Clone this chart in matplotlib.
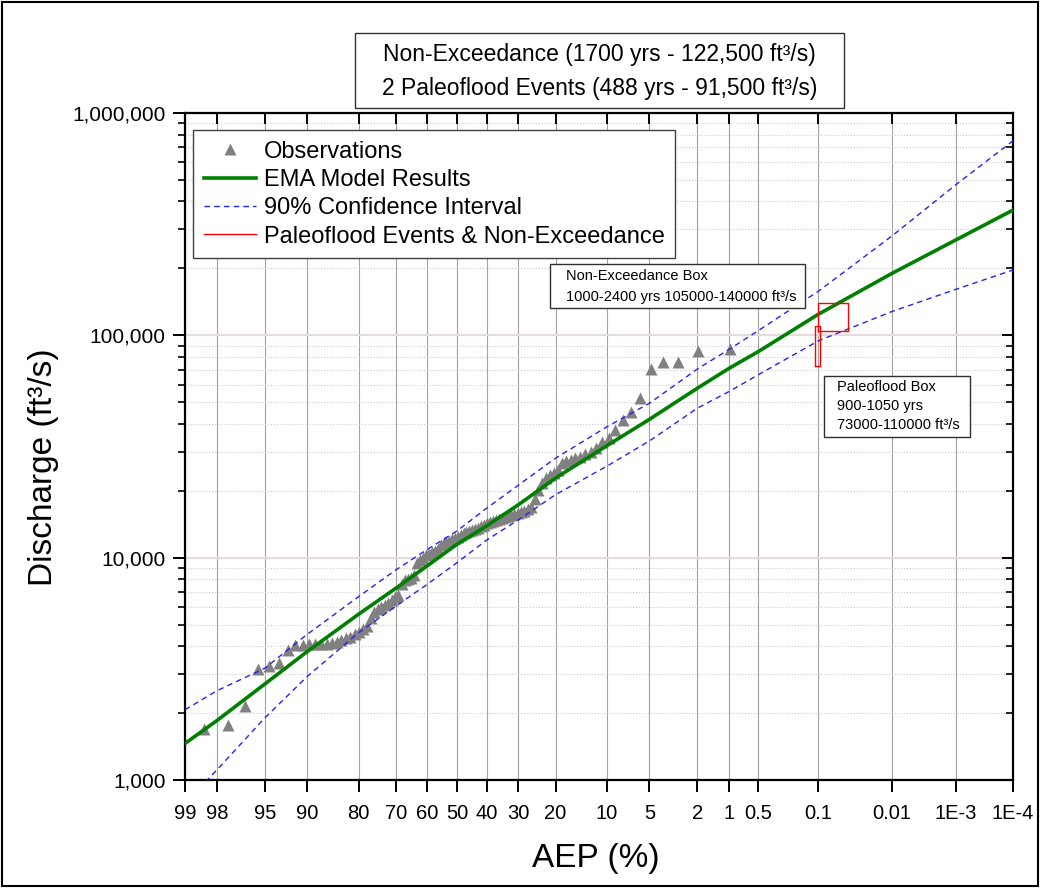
import numpy as np
import matplotlib
matplotlib.use("Agg")
import matplotlib.pyplot as plt
from matplotlib.patches import Rectangle
from matplotlib.ticker import NullLocator, NullFormatter, LogLocator
from statistics import NormalDist

plt.rcParams['font.family'] = ['Liberation Sans', 'DejaVu Sans']

# ------------------------------------------
# Data
# ------------------------------------------
aep_ticks = [99, 98, 95, 90, 80, 70, 60, 50, 40, 30, 20, 10, 5, 2, 1, 0.5,
             0.1, 0.01, 0.001, 0.0001]
aep_tick_labels = ["99", "98", "95", "90", "80", "70", "60", "50", "40", "30",
                   "20", "10", "5", "2", "1", "0.5", "0.1", "0.01", "1E-3", "1E-4"]
q_ticks = [1000, 10000, 100000, 1000000]

# EMA curve and 90% confidence limits, AEP in percent
curve_aep = [99, 98, 95, 90, 80, 70, 60, 50, 40, 30, 20, 10, 5, 2, 1, 0.5,
             0.1, 0.01, 0.001, 0.0001]
ema_q = [1460, 1850, 2700, 3780, 5570, 7280, 9200, 11500, 13900, 17300,
         22800, 31900, 41900, 57800, 71100, 84500, 124500, 190000, 268600, 366000]
upper_q = [2070, 2520, 3180, 4520, 6680, 8800, 10900, 13200, 16700, 21200,
           28000, 38800, 49500, 70500, 86500, 105000, 158000, 280000, 476000, 750000]
lower_q = [790, 1110, 1900, 2920, 4600, 6050, 7600, 9500, 12000, 14800,
           19200, 25800, 33500, 47000, 55900, 66500, 94500, 128000, 161000, 196700]

# observed peaks (plotting position AEP %, discharge)
obs_aep = [98.48, 97.51, 96.53, 95.56, 94.58, 93.61, 92.63, 91.66, 90.68, 89.71,
           88.73, 87.76, 86.78, 85.81, 84.83, 83.86, 82.88, 81.91, 80.93, 79.96,
           78.98, 78.01, 77.03, 76.06, 75.08, 74.11, 73.13, 72.16, 71.18, 70.21,
           69.23, 68.26, 67.28, 66.31, 65.33, 64.36, 63.38, 62.41, 61.43, 60.46,
           59.48, 58.51, 57.53, 56.56, 55.58, 54.61, 53.63, 52.66, 51.68, 50.71,
           49.73, 48.76, 47.78, 46.81, 45.83, 44.86, 43.88, 42.91, 41.93, 40.96,
           39.98, 39.01, 38.03, 37.06, 36.08, 35.11, 34.13, 33.16, 32.18, 31.21,
           30.23, 29.26, 28.28, 27.31, 26.33, 25.36, 24.38, 23.41, 22.43, 21.46,
           20.48, 19.51, 18.53, 17.56, 16.58, 15.61, 14.63, 13.66, 12.68, 11.71,
           10.73, 9.76, 8.78, 7.81, 6.83, 5.86, 4.88, 3.91, 2.93, 1.96,
           0.98]
obs_q = [1690, 1770, 2150, 3170, 3270, 3350, 3850, 4050, 4050, 4070,
         4070, 4090, 4090, 4130, 4180, 4260, 4350, 4420, 4540, 4630,
         4780, 4930, 5360, 5700, 5880, 6000, 6130, 6260, 6450, 6660,
         6800, 7620, 7940, 8020, 8110, 8360, 9470, 9770, 9970, 10280,
         10390, 10610, 10720, 10940, 11410, 11650, 11800, 11890, 12080, 12260,
         12390, 12650, 12910, 13090, 13190, 13320, 13460, 13600, 13810, 14030,
         14250, 14470, 14620, 14770, 14930, 15080, 15240, 15400, 15560, 15640,
         15810, 15970, 16220, 16560, 16910, 18370, 20160, 21680, 22830, 23550,
         24040, 24800, 26670, 27080, 27510, 27940, 28470, 29280, 29980, 31150,
         33250, 34550, 37540, 41630, 45390, 52120, 70620, 75920, 75920, 85340,
         86850]

# paleoflood / non-exceedance boxes (years, discharge)
nonexc_years = [1000, 2400]
nonexc_q = [105000, 140000]
paleo_years = [900, 1050]
paleo_q = [73000, 110000]

# ------------------------------------------
# Normal probability scale for AEP (%)
# ------------------------------------------
_nd = NormalDist()
_ppf = np.vectorize(_nd.inv_cdf, otypes=[float])
_cdf = np.vectorize(_nd.cdf, otypes=[float])


def prob_fwd(p):
    p = np.clip(np.asarray(p, dtype=float), 1e-10, 100 - 1e-10)
    return _ppf(1 - p / 100.0)


def prob_inv(z):
    return 100.0 * (1 - _cdf(np.asarray(z, dtype=float)))


def box_xy(years, q):
    a0, a1 = 100.0 / years[0], 100.0 / years[1]
    return [a0, a1, a1, a0, a0], [q[0], q[0], q[1], q[1], q[0]]


def set_prob_x(a):
    a.set_xscale('function', functions=(prob_fwd, prob_inv))
    a.set_xlim(0.0001, 99)
    # make sure 99 % sits on the left
    if a.transData.transform((99, 1000))[0] > a.transData.transform((0.0001, 1000))[0]:
        a.invert_xaxis()
    a.set_xticks(aep_ticks)
    a.xaxis.set_minor_locator(NullLocator())


W, H = 1040, 888
fig = plt.figure(figsize=(W / 100, H / 100), dpi=100)
ax = fig.add_axes([185 / W, 1 - 780 / H, (1013 - 185) / W, (780 - 113) / H])

ax.set_yscale('log')
ax.set_ylim(1000, 1000000)
set_prob_x(ax)

ax.plot(obs_aep, obs_q, '^', color='#808080', ms=8, mec='none', zorder=3,
        label='Observations')
ax.plot(curve_aep, ema_q, color='#008000', lw=2.6, zorder=4,
        label='EMA Model Results')
ax.plot(curve_aep, upper_q, color='#2323f0', lw=1.0, ls='--', dashes=(4, 3),
        zorder=4, label='90% Confidence Interval')
ax.plot(curve_aep, lower_q, color='#2323f0', lw=1.0, ls='--', dashes=(4, 3),
        zorder=4)
bx, by = box_xy(nonexc_years, nonexc_q)
ax.plot(bx, by, color='red', lw=1.0, zorder=5,
        label='Paleoflood Events & Non-Exceedance')
bx, by = box_xy(paleo_years, paleo_q)
ax.plot(bx, by, color='red', lw=1.0, zorder=5)

ax.set_ylim(1000, 1000000)
ax.set_xticklabels(aep_tick_labels)
ax.set_yticks(q_ticks)
ax.set_yticklabels([f"{v:,}" for v in q_ticks])
ax.yaxis.set_minor_locator(LogLocator(base=10, subs=np.arange(2, 10)))
ax.yaxis.set_minor_formatter(NullFormatter())

ax.grid(which='major', axis='x', color='#a3a3a3', lw=0.8)
ax.grid(which='major', axis='y', color='#e6dcdc', lw=1.6)
ax.grid(which='minor', axis='y', color='#cccccc', lw=0.8, ls=':')
ax.set_axisbelow(True)

ax.tick_params(axis='x', which='major', direction='out', length=8.5, width=1.4,
               labelsize=14.5, pad=9, top=False)
ax.tick_params(axis='y', which='major', direction='out', length=9, width=1.4,
               labelsize=15, pad=5, right=False)
ax.tick_params(axis='y', which='minor', direction='out', length=5, width=1.2,
               right=False)
for s in ax.spines.values():
    s.set_linewidth(1.6)

# inward ticks on top and right axes
ax_t = ax.twiny()
set_prob_x(ax_t)
ax_t.tick_params(axis='x', which='major', direction='in', length=8, width=1.4,
                 labeltop=False)
ax_r = ax.twinx()
ax_r.set_yscale('log')
ax_r.set_ylim(1000, 1000000)
ax_r.set_yticks(q_ticks)
ax_r.yaxis.set_minor_locator(LogLocator(base=10, subs=np.arange(2, 10)))
ax_r.yaxis.set_minor_formatter(NullFormatter())
ax_r.tick_params(axis='y', which='major', direction='in', length=8, width=1.4,
                 labelright=False)
ax_r.tick_params(axis='y', which='minor', direction='in', length=5, width=1.2)
for a in (ax_t, ax_r):
    for s in a.spines.values():
        s.set_visible(False)

ax.set_xlabel('AEP (%)', fontsize=24)
ax.set_ylabel('Discharge (ft³/s)', fontsize=24)
ax.xaxis.set_label_coords(0.4958, -0.094)
ax.yaxis.set_label_coords(-0.152, 0.469)

leg = ax.legend(loc='upper left', bbox_to_anchor=(8 / 828, 1 - 17 / 667),
                borderaxespad=0, fontsize=17, fancybox=False, framealpha=1,
                edgecolor='#404040', handlelength=2.2, handletextpad=0.35,
                borderpad=0.45, labelspacing=0.27, numpoints=1)
leg.get_frame().set_linewidth(1.0)


# ------------------------------------------
# Text boxes (pixel layout)
# ------------------------------------------
def fig_rect(x0, y0, x1, y1):
    r = Rectangle((x0 / W, 1 - y1 / H), (x1 - x0) / W, (y1 - y0) / H,
                  transform=fig.transFigure, facecolor='white',
                  edgecolor='#303030', lw=1.0, zorder=10)
    fig.add_artist(r)


def fig_txt(x, y, s, size, ha='left'):
    fig.text(x / W, 1 - y / H, s, fontsize=size, ha=ha, va='center', zorder=11)


fig_rect(355, 33, 844, 108)
fig_txt(599.5, 55, 'Non-Exceedance (1700 yrs - 122,500 ft³/s)', 16.5, 'center')
fig_txt(599.5, 89, '2 Paleoflood Events (488 yrs - 91,500 ft³/s)', 16.5, 'center')

fig_rect(550, 264, 805, 308)
fig_txt(566, 276, 'Non-Exceedance Box', 10.5)
fig_txt(566, 297, f'{nonexc_years[0]}-{nonexc_years[1]} yrs '
                  f'{nonexc_q[0]}-{nonexc_q[1]} ft³/s', 10.5)

fig_rect(824, 376, 970, 437)
fig_txt(837, 387, 'Paleoflood Box', 10.5)
fig_txt(837, 405.5, f'{paleo_years[0]}-{paleo_years[1]} yrs', 10.5)
fig_txt(837, 425, f'{paleo_q[0]}-{paleo_q[1]} ft³/s', 10.5)

# outer frame
fig.add_artist(Rectangle((0.002, 0.002), 0.996, 0.996, transform=fig.transFigure,
                         fill=False, edgecolor='black', lw=1.5))

fig.savefig('out.png', dpi=100)
